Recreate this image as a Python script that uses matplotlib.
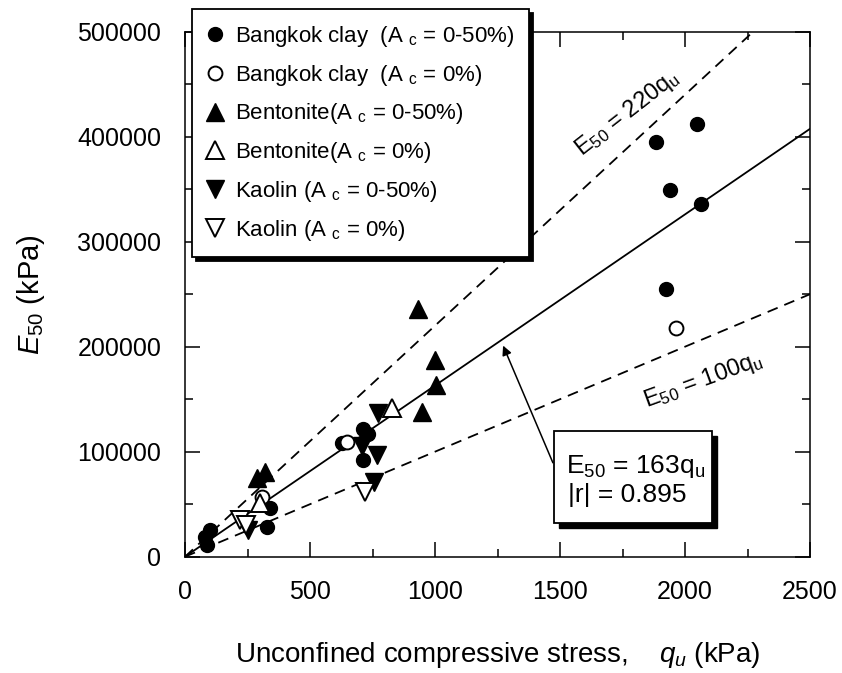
import matplotlib
matplotlib.use('Agg')
import matplotlib.pyplot as plt
from matplotlib.patches import Rectangle
from matplotlib.ticker import MultipleLocator

plt.rcParams['font.family'] = ['Liberation Sans', 'DejaVu Sans']
plt.rcParams['mathtext.fontset'] = 'custom'
plt.rcParams['mathtext.rm'] = 'Liberation Sans'
plt.rcParams['mathtext.it'] = 'Liberation Sans:italic'

# q_u (kPa), E50 (kPa)
bkk_qu = [1884, 2047, 1940, 2064, 1924, 713, 733, 627, 713, 340, 327, 100, 80, 87]
bkk_e50 = [395e3, 412e3, 349e3, 336e3, 255e3, 122e3, 117e3, 108e3, 92e3, 46e3, 28.5e3, 25e3, 19e3, 11e3]
bkk0_qu = [1964, 647, 307]
bkk0_e50 = [218e3, 109.5e3, 57e3]

bent_qu = [933, 1000, 1004, 947, 320, 287]
bent_e50 = [236e3, 187e3, 163.5e3, 137.5e3, 81e3, 74.5e3]
bent0_qu = [827, 300]
bent0_e50 = [142e3, 51e3]

kao_qu = [773, 707, 767, 756, 250]
kao_e50 = [136.5e3, 105e3, 97e3, 71.5e3, 25e3]
kao0_qu = [720, 220, 245]
kao0_e50 = [62e3, 35e3, 30e3]

fig = plt.figure(figsize=(8.42, 6.73), dpi=100)
ax = fig.add_axes([185/842, 1-556.7/673, 625/842, 525/673])

ms_c = 10
ms_t = 13
ew = 1.4
ax.plot(bkk_qu, bkk_e50, 'o', color='k', ms=ms_c, ls='none', label=r'Bangkok clay  (A $_\mathregular{c}$ = 0-50%)')
ax.plot(bkk0_qu, bkk0_e50, 'o', mfc='w', mec='k', mew=ew, ms=ms_c, ls='none', label=r'Bangkok clay  (A $_\mathregular{c}$ = 0%)')
ax.plot(bent_qu, bent_e50, '^', color='k', ms=ms_t, ls='none', label=r'Bentonite(A $_\mathregular{c}$ = 0-50%)')
ax.plot(bent0_qu, bent0_e50, '^', mfc='w', mec='k', mew=ew, ms=ms_t, ls='none', label=r'Bentonite(A $_\mathregular{c}$ = 0%)')
ax.plot(kao_qu, kao_e50, 'v', color='k', ms=ms_t, ls='none', label=r'Kaolin (A $_\mathregular{c}$ = 0-50%)')
ax.plot(kao0_qu, kao0_e50, 'v', mfc='w', mec='k', mew=ew, ms=ms_t, ls='none', label=r'Kaolin (A $_\mathregular{c}$ = 0%)')

# regression line and bounds
ax.plot([0, 2500], [0, 163*2500], 'k-', lw=1.3, zorder=1)
ax.plot([0, 500e3/220], [0, 500e3], 'k--', lw=1.3, dashes=(6, 4), zorder=1)
ax.plot([0, 2500], [0, 100*2500], 'k--', lw=1.3, dashes=(6, 4), zorder=1)

ax.text(1770, 422e3, r'E$_\mathregular{50}$ = 220q$_\mathregular{u}$', rotation=38, ha='center', va='center',
        rotation_mode='anchor', fontsize=17)
ax.text(2072, 168e3, r'E$_\mathregular{50}$ = 100q$_\mathregular{u}$', rotation=20, ha='center', va='center',
        rotation_mode='anchor', fontsize=17)

# boxed label with shadow
ax.add_patch(Rectangle((1496, 27e3), 632, 87.7e3, fc='k', ec='k', zorder=4))
ax.add_patch(Rectangle((1476, 32e3), 632, 87.7e3, fc='w', ec='k', lw=1.3, zorder=5))
ax.text(1525, 85.5e3, r'E$_\mathregular{50}$ = 163q$_\mathregular{u}$', fontsize=19, va='center', ha='left', zorder=6)
ax.text(1530, 59e3, '|r| = 0.895', fontsize=19, va='center', ha='left', zorder=6)
ax.annotate('', xy=(1268, 203.5e3), xytext=(1476, 87e3),
            arrowprops=dict(arrowstyle='-|>', color='k', lw=1.1, mutation_scale=14), zorder=3)

ax.set_xlim(0, 2500)
ax.set_ylim(0, 500000)
ax.xaxis.set_major_locator(MultipleLocator(500))
ax.xaxis.set_minor_locator(MultipleLocator(250))
ax.yaxis.set_major_locator(MultipleLocator(100000))
ax.yaxis.set_minor_locator(MultipleLocator(50000))
ax.tick_params(which='both', direction='in', top=True, right=True, width=1.1, labelsize=18)
ax.tick_params(which='major', length=11, pad=17)
ax.tick_params(which='minor', length=5.5)
for s in ax.spines.values():
    s.set_linewidth(1.1)

ax.set_xlabel('Unconfined compressive stress,    $q_u$ (kPa)', fontsize=20, labelpad=26)
ax.set_ylabel(r'$E_\mathregular{50}$ (kPa)', fontsize=21, labelpad=22)

leg = ax.legend(loc='upper left', bbox_to_anchor=(191.7/842, 1-9.3/673), bbox_transform=fig.transFigure,
                borderaxespad=0, numpoints=1, fontsize=16, fancybox=False, framealpha=1,
                edgecolor='k', handlelength=0.8, handletextpad=0.5, labelspacing=0.62,
                borderpad=0.65, shadow={'ox': 3, 'oy': -3, 'color': 'k', 'alpha': 1})
leg.get_frame().set_linewidth(1.3)
leg.set_zorder(10)

fig.savefig('out.png', dpi=100)
